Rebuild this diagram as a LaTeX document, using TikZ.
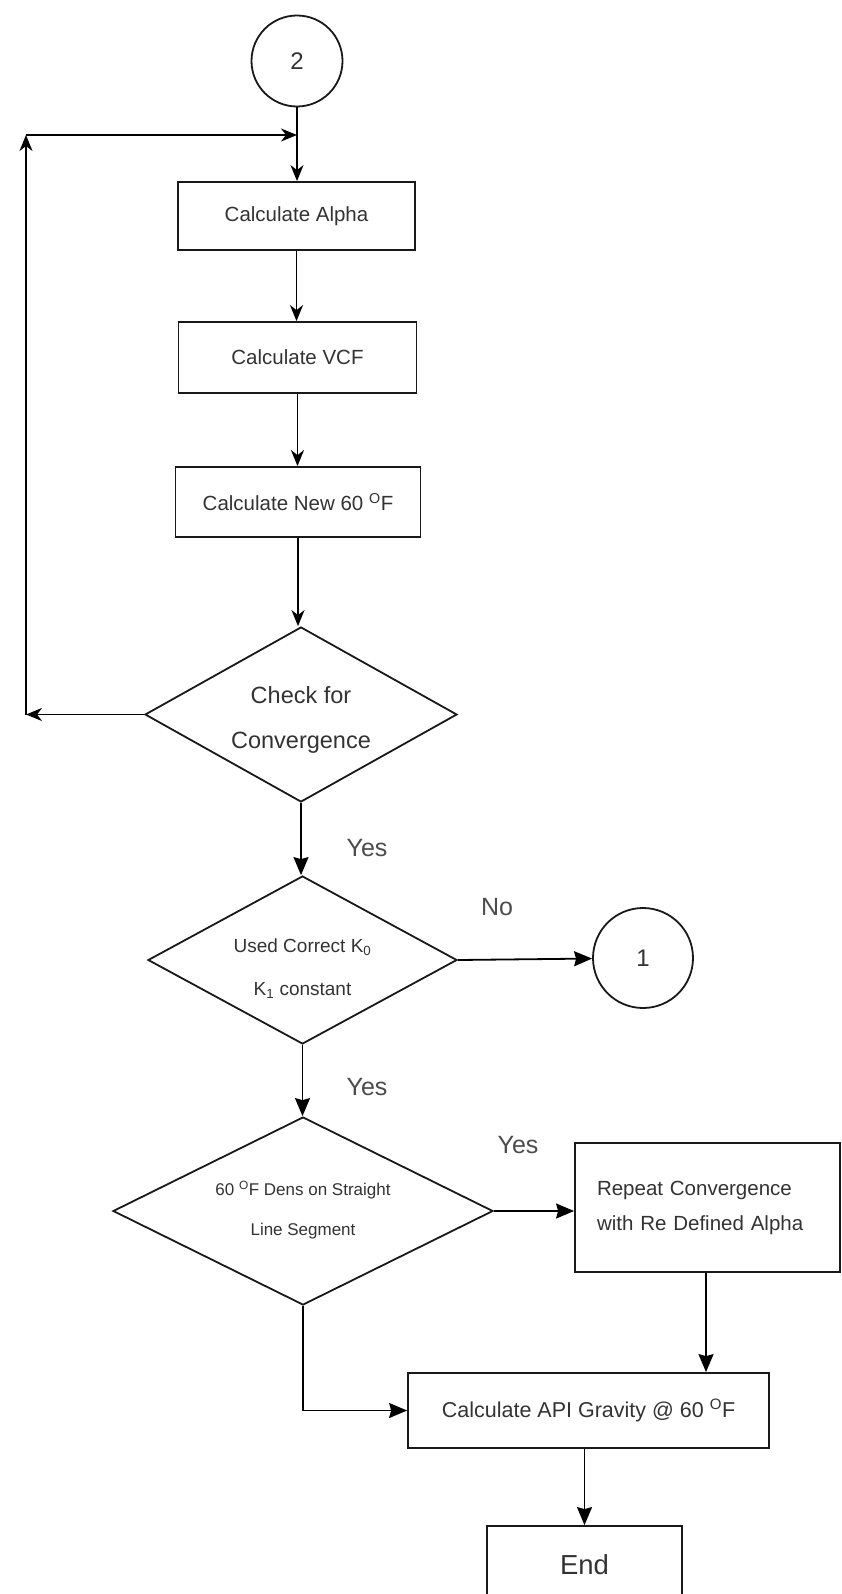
\documentclass[tikz,border=0pt]{standalone}
\usepackage{fontspec}
\setmainfont{Liberation Sans}
\usetikzlibrary{arrows.meta,shapes.geometric}
\begin{document}
\begin{tikzpicture}[x=1pt,y=-1pt,
  line width=1.8pt,
  box/.style={draw=black!90, rectangle, inner sep=0pt, font=\fontsize{20.5}{24}\selectfont, text=black!80},
  dia/.style={draw=black!90, diamond, inner sep=0pt},
  dtext/.style={align=center, text=black!80},
  conn/.style={draw=black!90, circle, inner sep=0pt, font=\fontsize{24}{28}\selectfont, text=black!80},
  lbl/.style={font=\fontsize{25}{30}\selectfont, text=black!70},
  arr/.style={-{Stealth[length=16pt,width=13pt,inset=5pt]}},
  arrb/.style={-{Stealth[length=18pt,width=15pt,inset=2pt]}},
]
\clip (0,0) rectangle (842,1594);
\fill[white] (0,0) rectangle (842,1594);

% connector circles
\node[conn, minimum size=91pt] (c2) at (297,61) {2};
\node[conn, minimum size=100pt] (c1) at (643,958) {1};

% process boxes
\node[box, minimum width=237pt, minimum height=68pt] (alpha) at (296.5,216) {Calculate Alpha};
\node[box, minimum width=238pt, minimum height=71pt] (vcf) at (297.5,357.5) {Calculate VCF};
\node[box, minimum width=245pt, minimum height=70pt] (new) at (298,502) {Calculate New 60 \textsuperscript{O}F};
\node[box, minimum height=129pt, text width=221pt, inner xsep=22pt, align=left,
      font=\fontsize{20.5}{35}\selectfont] (rep) at (707.5,1207.5) {Repeat Convergence\\with Re Defined Alpha};
\node[box, minimum width=361pt, minimum height=75pt, font=\fontsize{21.5}{26}\selectfont] (api) at (588.5,1410.5) {Calculate API Gravity @ 60 \textsuperscript{O}F};
\node[box, minimum width=195pt, minimum height=78pt, font=\fontsize{27.5}{32}\selectfont] (end) at (584.5,1565) {End};

% decision diamonds
\node[dia, minimum width=312pt, minimum height=175pt] (d1) at (301,714.5) {};
\node[dtext, font=\fontsize{23.5}{45}\selectfont] (t1) at (301,719.5) {Check for\\Convergence};
\node[dia, minimum width=309pt, minimum height=168pt] (d2) at (302.5,960) {};
\node[dtext, font=\fontsize{19}{43}\selectfont] (t2) at (302.5,968.5) {Used Correct K\textsubscript{0}\\K\textsubscript{1} constant};
\node[dia, minimum width=380pt, minimum height=188pt] (d3) at (303,1211) {};
\node[dtext, font=\fontsize{17}{40}\selectfont] (t3) at (303,1210) {60 \textsuperscript{O}F Dens on Straight\\Line Segment};

% labels
\node[lbl] (y1) at (367,848) {Yes};
\node[lbl] (no) at (497,907) {No};
\node[lbl] (y2) at (367,1087) {Yes};
\node[lbl] (y3) at (518,1145) {Yes};

% loop coordinates
\coordinate (cL) at (26,714.5);
\coordinate (cTL) at (26,135);
\coordinate (cT) at (297,135);

% connectors
\draw[arr] (c2.south) -- (c2.south |- alpha.north);
\draw[arr] (alpha.south) -- (alpha.south |- vcf.north);
\draw[arr] (vcf.south) -- (vcf.south |- new.north);
\draw[arr] (new.south) -- (new.south |- d1.north);
\draw[arr] (d1.west) -- (cL);
\draw[arr] (cL) -- (cTL);
\draw[arr] (cTL) -- (cT);
\draw[arrb] (d1.south) -- (d1.south |- d2.north);
\draw[arrb] (d2.east) -- (c1);
\draw[arrb] (d2.south) -- (d2.south |- d3.north);
\draw[arrb] (d3.east) -- (d3.east -| rep.west);
\draw[arrb] (d3.south) |- (api.west);
\draw[arrb] (rep.south -| 706,0) -- (api.north -| 706,0);
\draw[arrb] (api.south -| end.north) -- (end.north);
\end{tikzpicture}
\end{document}
